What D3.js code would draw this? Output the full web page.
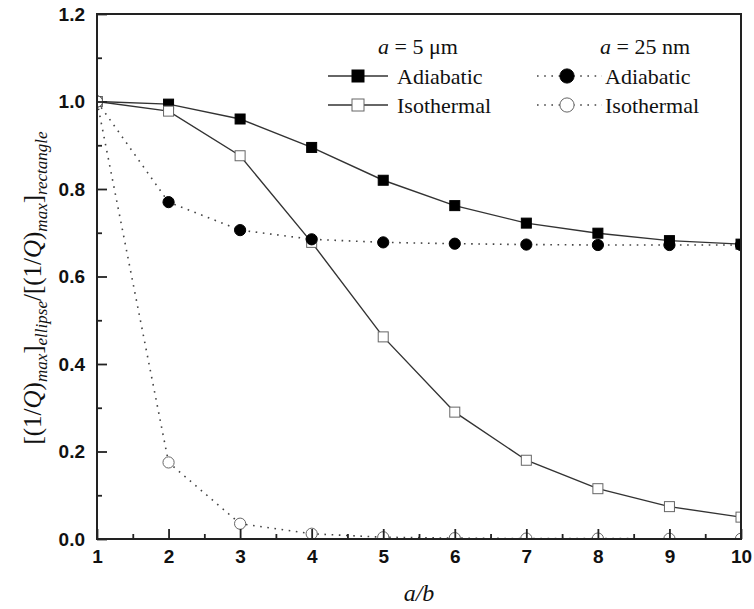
<!DOCTYPE html>
<html>
<head>
<meta charset="utf-8">
<script src="https://cdn.jsdelivr.net/npm/d3@7"></script>
<style>
	body{margin:0;background:#fff}
	.tick text{font-family:"Liberation Sans",Arial,sans-serif;font-weight:bold;font-size:19px;fill:#111}
	.serif{font-family:"Liberation Serif","Times New Roman",serif;fill:#111}
</style>
</head>
<body>
<div id="chart"></div>
<script>
// aspect ratio a/b
var ratios=[1,2,3,4,5,6,7,8,9,10]

// a = 5 um
var adiabatic5um=[1.0,0.994,0.960,0.895,0.820,0.762,0.722,0.699,0.682,0.674]
var isothermal5um=[1.0,0.978,0.876,0.678,0.462,0.290,0.180,0.115,0.074,0.050]
// a = 25 nm
var adiabatic25nm=[1.0,0.770,0.706,0.685,0.678,0.675,0.673,0.672,0.672,0.672]
var isothermal25nm=[1.0,0.175,0.035,0.012,0.004,0.002,0.001,0.001,0.0005,0.0005]

var xTicks=[1,2,3,4,5,6,7,8,9,10]
var yTicks=[0,0.2,0.4,0.6,0.8,1.0,1.2]
var legendHeaders=["5 μm","25 nm"]
var legendLabels=["Adiabatic","Isothermal"]

var width=754, height=609
var plot={left:97,right:741,top:14,bottom:539}
var serif='"Liberation Serif","Times New Roman",serif'

var svg=d3.select("#chart").append("svg")
	.attr("width",width)
	.attr("height",height)

var xScale=d3.scaleLinear().domain([1,10]).range([plot.left,plot.right])
var yScale=d3.scaleLinear().domain([0,1.2]).range([plot.bottom,plot.top])

svg.append("clipPath").attr("id","clip")
	.append("rect")
	.attr("x",plot.left).attr("y",plot.top)
	.attr("width",plot.right-plot.left).attr("height",plot.bottom-plot.top)

var series=[
	{values:adiabatic5um,shape:"square",filled:true,dotted:false},
	{values:isothermal5um,shape:"square",filled:false,dotted:false},
	{values:adiabatic25nm,shape:"circle",filled:true,dotted:true},
	{values:isothermal25nm,shape:"circle",filled:false,dotted:true}
]

var line=d3.line()
	.x(function(d){return xScale(d.x)})
	.y(function(d){return yScale(d.y)})

var g=svg.append("g").attr("clip-path","url(#clip)")

function styleLine(sel,s){
	sel.attr("fill","none")
		.attr("stroke",s.dotted?"#444":"#333")
		.attr("stroke-width",s.dotted?1.6:1.4)
	if(s.dotted) sel.attr("stroke-dasharray","1.6,5.6")
	return sel
}

function drawMarker(sel,s,size){
	var m
	if(s.shape=="square"){
		m=sel.append("rect")
			.attr("x",-size/2).attr("y",-size/2)
			.attr("width",size).attr("height",size)
	}else{
		m=sel.append("circle").attr("r",size/2+0.6)
	}
	m.attr("fill",s.filled?"#000":"#fff")
		.attr("stroke",s.filled?"#000":"#666")
		.attr("stroke-width",1)
	return m
}

series.forEach(function(s){
	var pts=ratios.map(function(r,i){return {x:r,y:s.values[i]}})
	styleLine(g.append("path").datum(pts).attr("d",line),s)
})
series.forEach(function(s){
	var pts=ratios.map(function(r,i){return {x:r,y:s.values[i]}})
	g.selectAll(null).data(pts).enter().append("g")
		.attr("transform",function(d){return "translate("+xScale(d.x)+","+yScale(d.y)+")"})
		.each(function(){drawMarker(d3.select(this),s,10)})
})

// axes, ticks pointing inward
var fmt=d3.format(".1f")
var yMinor=d3.range(0.1,1.2,0.2)
var xMinor=d3.range(1.5,10,1)

svg.append("g")
	.attr("transform","translate("+plot.left+",0)")
	.call(d3.axisLeft(yScale).tickValues(yMinor).tickSize(-5).tickFormat(""))
	.call(function(a){a.select(".domain").remove()})
svg.append("g")
	.attr("transform","translate("+plot.left+",0)")
	.call(d3.axisLeft(yScale).tickValues(yTicks).tickSize(-10).tickPadding(12).tickFormat(fmt))
	.call(function(a){a.select(".domain").remove()})

svg.append("g")
	.attr("transform","translate(0,"+plot.bottom+")")
	.call(d3.axisBottom(xScale).tickValues(xMinor).tickSize(-5).tickFormat(""))
	.call(function(a){a.select(".domain").remove()})
svg.append("g")
	.attr("transform","translate(0,"+plot.bottom+")")
	.call(d3.axisBottom(xScale).tickValues(xTicks).tickSize(-10).tickPadding(11).tickFormat(d3.format("d")))
	.call(function(a){a.select(".domain").remove()})

svg.selectAll(".tick line").attr("stroke","#222").attr("stroke-width",1.8)

svg.append("rect")
	.attr("x",plot.left).attr("y",plot.top)
	.attr("width",plot.right-plot.left).attr("height",plot.bottom-plot.top)
	.attr("fill","none").attr("stroke","#222").attr("stroke-width",2)

// axis titles
svg.append("text").attr("class","serif")
	.attr("x",(plot.left+plot.right)/2).attr("y",601)
	.attr("text-anchor","middle").attr("font-size",24).attr("font-style","italic")
	.attr("font-family",serif)
	.text("a/b")

var yt=svg.append("text").attr("class","serif")
	.attr("transform","translate(41,288) rotate(-90)")
	.attr("text-anchor","middle").attr("font-size",25)
	.attr("font-family",serif)
var parts=[["[(1/",""],["Q","i"],[")",""],["max","s"],["]",""],["ellipse","s"],["/[(1/",""],["Q","i"],[")",""],["max","s"],["]",""],["rectangle","s"]]
var shifted=false
parts.forEach(function(p){
	var t=yt.append("tspan").text(p[0])
	if(p[1]=="s"){
		t.attr("font-size",17).attr("font-style","italic").attr("dy",shifted?0:6)
		shifted=true
	}else{
		if(shifted){t.attr("dy",-6);shifted=false}
		if(p[1]=="i") t.attr("font-style","italic")
	}
})

// legend
var legendX=[{line:[328,388],mark:358,text:397,head:418},{line:[537,602],mark:567,text:605,head:645}]
var legendY=[76,105]

legendHeaders.forEach(function(h,c){
	var t=svg.append("text").attr("class","serif")
		.attr("x",legendX[c].head).attr("y",54)
		.attr("text-anchor","middle").attr("font-size",22)
		.attr("font-family",serif)
	t.append("tspan").attr("font-style","italic").text("a")
	t.append("tspan").text(" = "+h)
})

series.forEach(function(s,i){
	var c=s.dotted?1:0
	var r=s.filled?0:1
	var L=legendX[c], y=legendY[r]
	styleLine(svg.append("line")
		.attr("x1",L.line[0]).attr("x2",L.line[1])
		.attr("y1",y).attr("y2",y),s)
	drawMarker(svg.append("g").attr("transform","translate("+L.mark+","+y+")"),s,s.shape=="square"?12:13)
	svg.append("text").attr("class","serif")
		.attr("x",L.text).attr("y",y+7.5)
		.attr("font-size",22)
		.attr("font-family",serif)
		.text(legendLabels[r])
})
</script>
</body>
</html>
